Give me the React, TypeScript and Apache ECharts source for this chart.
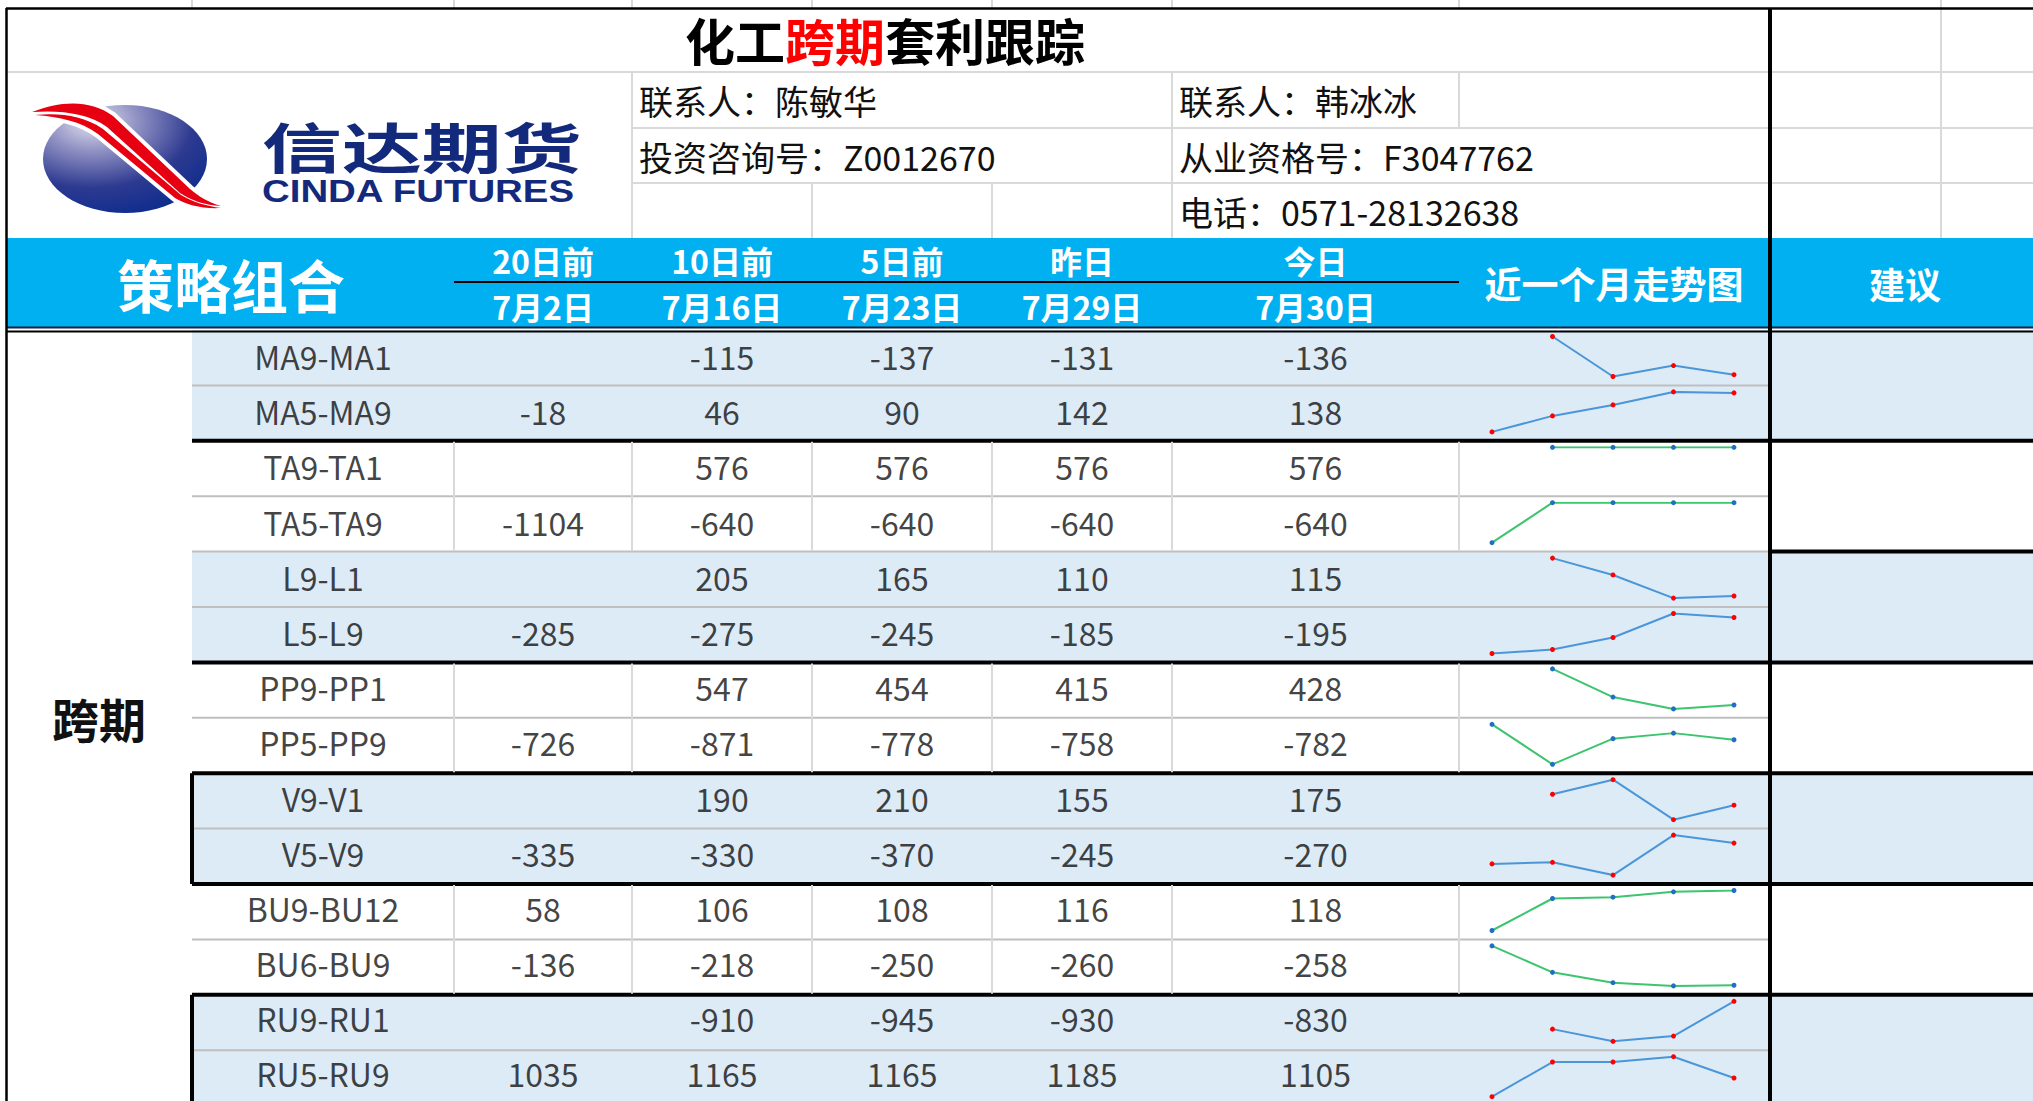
import React, { useEffect, useRef } from 'react';
import * as echarts from 'echarts';

const W = 2033;
const H = 1101;

// ---------- data ----------
const rowNames = ['MA9-MA1', 'MA5-MA9', 'TA9-TA1', 'TA5-TA9', 'L9-L1', 'L5-L9', 'PP9-PP1', 'PP5-PP9', 'V9-V1', 'V5-V9', 'BU9-BU12', 'BU6-BU9', 'RU9-RU1', 'RU5-RU9'];
const col20d: (number | null)[] = [null, -18, null, -1104, null, -285, null, -726, null, -335, 58, -136, null, 1035];
const col10d: (number | null)[] = [-115, 46, 576, -640, 205, -275, 547, -871, 190, -330, 106, -218, -910, 1165];
const col5d: (number | null)[] = [-137, 90, 576, -640, 165, -245, 454, -778, 210, -370, 108, -250, -945, 1165];
const colYesterday: (number | null)[] = [-131, 142, 576, -640, 110, -185, 415, -758, 155, -245, 116, -260, -930, 1185];
const colToday: (number | null)[] = [-136, 138, 576, -640, 115, -195, 428, -782, 175, -270, 118, -258, -830, 1105];
const headerTop = ['20日前', '10日前', '5日前', '昨日', '今日'];
const headerDates = ['7月2日', '7月16日', '7月23日', '7月29日', '7月30日'];
const categoryLabel = '跨期';
const titleParts = ['化工', '跨期', '套利跟踪'];
const infoLeft = ['联系人：陈敏华', '投资咨询号：Z0012670'];
const infoRight = ['联系人：韩冰冰', '从业资格号：F3047762', '电话：0571-28132638'];

// ---------- layout ----------
const FONT = '"Noto Sans CJK SC", "Noto Sans", sans-serif';
const colEdges = [192, 454, 632, 812, 992, 1172, 1459, 1770];
const ROW_TOP = 330;
const ROW_H = 55.4;
const LIGHT_BLUE = '#DDEBF7';
const HEADER_BLUE = '#00B0F0';
const GRID_GRAY = '#D9D9D9';
const ROW_GRAY = '#BFBFBF';

const upperBand = 'M 32 112 C 60 101 90 99 113 116 L 190 189 C 198 196 208 202 221 206 C 205 205 192 201 180 193 L 107 127 C 88 113 60 110 32 112 Z';
const lowerBand = 'M 35 115 C 60 113 82 115 103 129 L 181 195 C 193 202 206 206 221 208 C 202 209 187 205 175 198 L 98 134 C 80 121 60 117 35 115 Z';
echarts.graphic.registerShape('cindaUpper', echarts.graphic.extendPath(upperBand, {}));
echarts.graphic.registerShape('cindaLower', echarts.graphic.extendPath(lowerBand, {}));

const hLine = (x1: number, x2: number, y: number, color: string, w: number) => ({
  type: 'line', silent: true, z: 10,
  shape: { x1, y1: y, x2, y2: y },
  style: { stroke: color, lineWidth: w },
});
const vLine = (x: number, y1: number, y2: number, color: string, w: number) => ({
  type: 'line', silent: true, z: 10,
  shape: { x1: x, y1, x2: x, y2 },
  style: { stroke: color, lineWidth: w },
});
const rect = (x: number, y: number, w: number, h: number, fill: string, z = 0) => ({
  type: 'rect', silent: true, z,
  shape: { x, y, width: w, height: h },
  style: { fill },
});
const text = (x: number, y: number, t: string, size: number, fill: string, opts: any = {}) => ({
  type: 'text', silent: true, z: 12, x, y,
  scaleX: opts.scaleX ?? 1,
  style: {
    text: t,
    fill,
    font: `${opts.weight ?? 'normal'} ${size}px ${opts.family ?? FONT}`,
    textAlign: opts.align ?? 'center',
    align: opts.align ?? 'center',
    textVerticalAlign: 'middle',
    verticalAlign: 'middle',
  },
});

function buildOption() {
  const graphics: any[] = [];
  // backgrounds
  graphics.push(rect(0, 0, W, H, '#FFFFFF', -1));
  graphics.push(rect(6, 238, W - 6, 89, HEADER_BLUE, 0));
  for (let p = 0; p < 7; p++) {
    if (p % 2 === 0) graphics.push(rect(192, ROW_TOP + p * 2 * ROW_H, W - 192, 2 * ROW_H, LIGHT_BLUE, 0));
  }
  // top ticks
  [192, 454, 632, 812, 992, 1172, 1459].forEach((x) => graphics.push(vLine(x, 0, 8, GRID_GRAY, 2)));
  // top area grid
  graphics.push(hLine(6, W, 72, GRID_GRAY, 2));
  graphics.push(hLine(632, W, 128, GRID_GRAY, 2));
  graphics.push(hLine(632, W, 183, GRID_GRAY, 2));
  graphics.push(vLine(632, 72, 238, GRID_GRAY, 2));
  graphics.push(vLine(1172, 72, 238, GRID_GRAY, 2));
  graphics.push(vLine(1459, 72, 128, GRID_GRAY, 2));
  graphics.push(vLine(812, 183, 238, GRID_GRAY, 2));
  graphics.push(vLine(992, 183, 238, GRID_GRAY, 2));
  graphics.push(vLine(1941, 0, 238, GRID_GRAY, 2));
  graphics.push(hLine(6, W, 8.5, '#000', 2.5));
  // header lines
  graphics.push(hLine(454, 1459, 282, '#000', 2));
  graphics.push(hLine(6, W, 327.5, '#14213d', 2));
  graphics.push(hLine(6, W, 331.5, '#000', 2));
  // data rows lines
  for (let k = 1; k < 14; k++) {
    const y = ROW_TOP + k * ROW_H;
    if (k % 2 === 1) {
      graphics.push(hLine(192, 1770, y, ROW_GRAY, 2));
    } else if (k === 4) {
      graphics.push(hLine(192, 1770, y, ROW_GRAY, 2));
      graphics.push(hLine(1770, W, y, '#000', 4));
    } else {
      graphics.push(hLine(192, W, y, '#000', 4));
    }
  }
  for (let p = 0; p < 7; p++) {
    const y1 = ROW_TOP + p * 2 * ROW_H;
    const y2 = y1 + 2 * ROW_H;
    if (p % 2 === 1) {
      [454, 632, 812, 992, 1172, 1459].forEach((x) => graphics.push(vLine(x, y1 + 1, y2 - 1, GRID_GRAY, 2)));
    }
    if (p === 4 || p === 6) graphics.push(vLine(192, y1, y2, '#000', 4));
  }
  graphics.push(vLine(6.5, 8, H, '#000', 2.5));
  graphics.push(vLine(1770, 8, H, '#000', 4));

  // title
  graphics.push({
    type: 'text', silent: true, z: 12, x: 885, y: 39,
    style: {
      text: `{a|${titleParts[0]}}{b|${titleParts[1]}}{a|${titleParts[2]}}`,
      textAlign: 'center', align: 'center', textVerticalAlign: 'middle', verticalAlign: 'middle',
      rich: {
        a: { fill: '#000', fontSize: 50, fontWeight: 'bold', fontFamily: FONT },
        b: { fill: '#FF0000', fontSize: 50, fontWeight: 'bold', fontFamily: FONT },
      },
    },
  });
  // info
  graphics.push(text(639, 100, infoLeft[0], 34, '#111', { align: 'left' }));
  graphics.push(text(639, 156, infoLeft[1], 34, '#111', { align: 'left' }));
  graphics.push(text(1179, 100, infoRight[0], 34, '#111', { align: 'left' }));
  graphics.push(text(1179, 156, infoRight[1], 34, '#111', { align: 'left' }));
  graphics.push(text(1179, 211, infoRight[2], 34, '#111', { align: 'left' }));

  // logo
  graphics.push({
    type: 'ellipse', silent: true, z: 1,
    shape: { cx: 125, cy: 159, rx: 82, ry: 54 },
    style: {
      fill: {
        type: 'radial', x: 0.3, y: 0.15, r: 0.95,
        colorStops: [
          { offset: 0, color: '#e4e3f1' },
          { offset: 0.3, color: '#8e8fc2' },
          { offset: 0.65, color: '#2d3a90' },
          { offset: 1, color: '#0a2a8e' },
        ],
      },
    },
  });
  graphics.push({ type: 'cindaUpper', silent: true, z: 2, x: 0, y: 0, style: { fill: '#fff', stroke: '#fff', lineWidth: 8 } });
  graphics.push({ type: 'cindaLower', silent: true, z: 2, x: 0, y: 0, style: { fill: '#fff', stroke: '#fff', lineWidth: 8 } });
  graphics.push({ type: 'cindaUpper', silent: true, z: 3, x: 0, y: 0, style: { fill: '#E60012' } });
  graphics.push({ type: 'cindaLower', silent: true, z: 3, x: 0, y: 0, style: { fill: '#E60012' } });
  graphics.push(text(262, 146, '信达期货', 54, '#13297c', { align: 'left', weight: 'bold', scaleX: 1.48 }));
  graphics.push(text(262, 191, 'CINDA FUTURES', 32, '#13297c', { align: 'left', weight: 'bold', scaleX: 1.2, family: '"Liberation Sans", Arial, sans-serif' }));

  // header texts
  graphics.push(text(231, 283, '策略组合', 57, '#fff', { weight: 'bold' }));
  for (let c = 0; c < 5; c++) {
    const cx = (colEdges[c + 1] + colEdges[c + 2]) / 2;
    graphics.push(text(cx, 260, headerTop[c], 32, '#fff', { weight: 'bold' }));
    graphics.push(text(cx, 306, headerDates[c], 32, '#fff', { weight: 'bold' }));
  }
  graphics.push(text(1614, 283, '近一个月走势图', 37, '#fff', { weight: 'bold' }));
  graphics.push(text(1905, 283, '建议', 36, '#fff', { weight: 'bold' }));
  graphics.push(text(99, 717, categoryLabel, 47, '#111', { weight: 'bold' }));

  const grid: any[] = [];
  const xAxis: any[] = [];
  const yAxis: any[] = [];
  const series: any[] = [];

  // table text columns
  const columns: (string | number | null)[][] = [rowNames, col20d, col10d, col5d, colYesterday, colToday];
  columns.forEach((vals, c) => {
    const gi = grid.length;
    grid.push({ left: colEdges[c], width: colEdges[c + 1] - colEdges[c], top: ROW_TOP - 1.5, height: ROW_H * 14 });
    xAxis.push({ type: 'value', gridIndex: gi, min: -1, max: 1, show: false });
    yAxis.push({ type: 'category', gridIndex: gi, data: rowNames, inverse: true, show: false });
    const data: any[] = [];
    vals.forEach((v, i) => {
      if (v !== null && v !== undefined) data.push({ name: String(v), value: [0, i] });
    });
    series.push({
      type: 'scatter', xAxisIndex: gi, yAxisIndex: gi, silent: true,
      symbolSize: 1, itemStyle: { color: 'rgba(0,0,0,0)' },
      data,
      label: { show: true, position: 'inside', formatter: '{b}', fontSize: 32, color: '#111', fontFamily: FONT },
    });
  });

  // sparklines
  rowNames.forEach((_, i) => {
    const vals = [col20d[i], col10d[i], col5d[i], colYesterday[i], colToday[i]];
    const nums = vals.filter((v) => v !== null) as number[];
    let mx = Math.max(...nums);
    let mn = Math.min(...nums);
    if (mx === mn) mn = mx - 1;
    const blueRow = Math.floor(i / 2) % 2 === 0;
    const gi = grid.length;
    grid.push({ left: 1492, width: 242, top: ROW_TOP + i * ROW_H + 6.5, height: 40 });
    xAxis.push({ type: 'category', gridIndex: gi, data: headerDates, boundaryGap: false, show: false });
    yAxis.push({ type: 'value', gridIndex: gi, min: mn, max: mx, show: false });
    series.push({
      type: 'line', xAxisIndex: gi, yAxisIndex: gi, silent: true,
      data: vals.map((v) => (v === null ? '-' : v)),
      symbol: 'circle', symbolSize: 5, showSymbol: true,
      lineStyle: { color: blueRow ? '#4A96D8' : '#3CC46E', width: 2 },
      itemStyle: { color: blueRow ? '#FF0000' : '#1F6FC5' },
    });
  });

  return {
    animation: false,
    backgroundColor: '#fff',
    grid, xAxis, yAxis, series,
    graphic: { elements: graphics },
  };
}

export default function App() {
  const ref = useRef<HTMLDivElement>(null);
  useEffect(() => {
    if (!ref.current) return;
    const chart = echarts.init(ref.current, null, { renderer: 'svg', width: W, height: H });
    chart.setOption(buildOption() as any);
    return () => chart.dispose();
  }, []);
  return <div ref={ref} style={{ position: 'fixed', left: 0, top: 0, width: W, height: H }} />;
}
